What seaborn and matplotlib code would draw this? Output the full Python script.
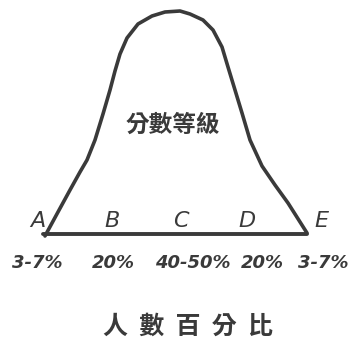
import matplotlib
matplotlib.use("Agg")
import matplotlib.pyplot as plt
import pandas as pd
import seaborn as sns

# Hand-drawn bell curve (x across, height above baseline)
curve_x = [45, 58, 70, 80, 87, 95, 103, 110, 115, 120, 127, 138, 152, 165, 180,
           190, 203, 213, 222, 228, 235, 242, 250, 262, 275, 288, 307]
curve_h = [0, 24, 46, 64, 76, 96, 122, 146, 165, 182, 198, 212, 220, 224, 225,
           222, 216, 206, 189, 169, 146, 123, 96, 70, 51, 33, 3]

grades = ["A", "B", "C", "D", "E"]
grade_x = [38, 112, 181, 247, 321]
percents = ["3-7%", "20%", "40-50%", "20%", "3-7%"]
percent_x = [37, 113, 193, 262, 323]

base_y = 236
inner_label = "分數等級"
axis_label = "人數百分比"

sns.set_theme(style="white")
plt.rcParams["font.family"] = ["Noto Sans CJK TC", "DejaVu Sans"]

fig = plt.figure(figsize=(3.56, 3.49), dpi=100)
ax = fig.add_axes([0, 0, 1, 1])

df = pd.DataFrame({"x": curve_x, "y": [base_y - h for h in curve_h]})
ink = "#3a3a3a"
sns.lineplot(data=df, x="x", y="y", sort=False, estimator=None,
             color=ink, linewidth=2.6, ax=ax,
             solid_joinstyle="round", solid_capstyle="round")
ax.plot([curve_x[0] - 2, curve_x[-1]], [base_y - 2, base_y - 2],
        color=ink, linewidth=2.8, solid_capstyle="round")

for g, gx in zip(grades, grade_x):
    ax.text(gx, 221, g, ha="center", va="center", fontsize=16,
            color=ink, style="italic", family="DejaVu Sans")
for p, px in zip(percents, percent_x):
    ax.text(px, 263, p, ha="center", va="center", fontsize=13,
            color=ink, style="italic", fontweight="bold", family="DejaVu Sans")

ax.text(173, 125, inner_label, ha="center", va="center", fontsize=17,
        fontweight="bold", color=ink)
ax.text(188, 327, "  ".join(axis_label), ha="center", va="center", fontsize=18,
        fontweight="bold", color=ink)

ax.set_xlim(0, 356)
ax.set_ylim(349, 0)
ax.axis("off")

fig.savefig("out.png", dpi=100, facecolor="white")
